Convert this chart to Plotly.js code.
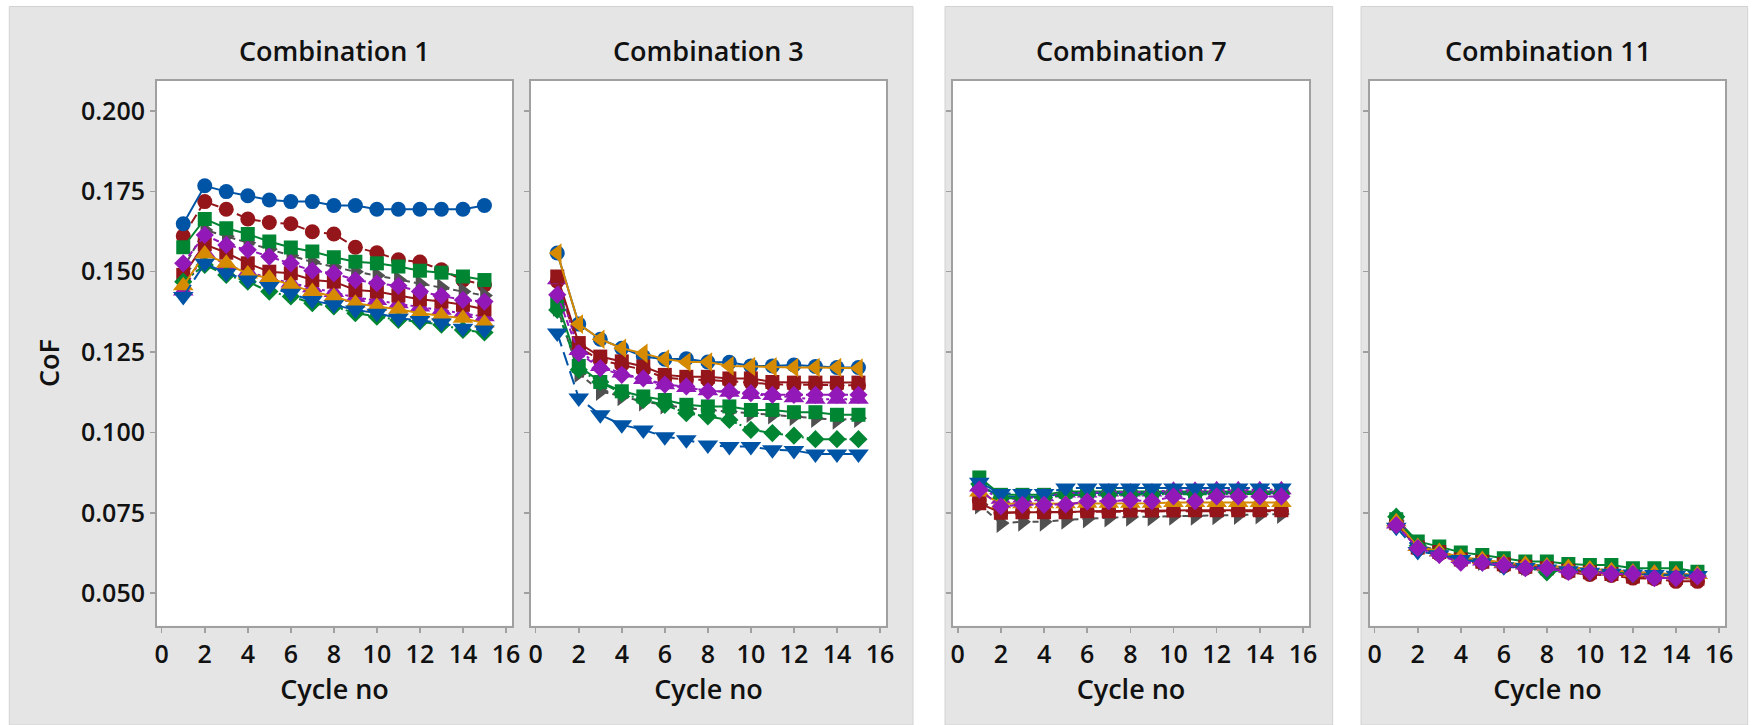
<!DOCTYPE html>
<html><head><meta charset="utf-8">
<script src="https://cdn.plot.ly/plotly-3.0.1.min.js"></script>
<style>html,body{margin:0;padding:0;background:#fff;}#chart{width:1752px;height:725px;}</style>
</head><body><div id="chart"></div>
<script>
// ---------------- DATA ----------------
const cycles = [1,2,3,4,5,6,7,8,9,10,11,12,13,14,15];
const panelTitles = ["Combination 1", "Combination 3", "Combination 7", "Combination 11"];
const xTickVals = [0,2,4,6,8,10,12,14,16];
const yTickVals = [0.050,0.075,0.100,0.125,0.150,0.175,0.200];
const xLabel = "Cycle no";
const yLabel = "CoF";

// Combination 1
const c1_redCircle    = [0.1611,0.1718,0.1694,0.1664,0.1653,0.1649,0.1624,0.1617,0.1576,0.1559,0.1537,0.1530,0.1506,0.1474,0.1459];
const c1_blueCircle   = [0.1649,0.1767,0.1749,0.1736,0.1723,0.1718,0.1718,0.1706,0.1706,0.1694,0.1694,0.1694,0.1694,0.1694,0.1706];
const c1_grayTriR     = [0.1510,0.1630,0.1610,0.1590,0.1570,0.1550,0.1530,0.1515,0.1500,0.1488,0.1475,0.1462,0.1450,0.1438,0.1426];
const c1_greenSquare  = [0.1576,0.1664,0.1635,0.1617,0.1594,0.1575,0.1563,0.1545,0.1531,0.1526,0.1516,0.1503,0.1497,0.1485,0.1474];
const c1_purpleTriU   = [0.1440,0.1560,0.1520,0.1500,0.1480,0.1465,0.1450,0.1435,0.1420,0.1410,0.1400,0.1390,0.1380,0.1370,0.1360];
const c1_redSquare    = [0.1490,0.1585,0.1559,0.1526,0.1500,0.1495,0.1474,0.1469,0.1443,0.1438,0.1426,0.1414,0.1407,0.1397,0.1383];
const c1_greenDiamond = [0.1469,0.1521,0.1490,0.1469,0.1438,0.1423,0.1402,0.1392,0.1371,0.1360,0.1350,0.1345,0.1335,0.1319,0.1311];
const c1_orangeTriU   = [0.1456,0.1555,0.1526,0.1493,0.1480,0.1459,0.1438,0.1423,0.1402,0.1392,0.1383,0.1371,0.1363,0.1355,0.1340];
const c1_orangeTriL   = null;
const c1_blueTriD     = [0.1423,0.1526,0.1495,0.1474,0.1454,0.1433,0.1410,0.1397,0.1381,0.1371,0.1355,0.1348,0.1340,0.1324,0.1319];
const c1_purpleDiamond= [0.1526,0.1614,0.1583,0.1568,0.1547,0.1526,0.1503,0.1495,0.1474,0.1464,0.1456,0.1438,0.1425,0.1412,0.1407];

// Combination 3
const c3_redCircle    = [0.1470,0.1265,0.1225,0.1210,0.1195,0.1170,0.1165,0.1163,0.1160,0.1155,0.1150,0.1148,0.1148,0.1147,0.1147];
const c3_blueCircle   = [0.1558,0.1337,0.1290,0.1262,0.1236,0.1228,0.1229,0.1219,0.1218,0.1207,0.1207,0.1210,0.1205,0.1202,0.1202];
const c3_grayTriR     = [0.1390,0.1184,0.1128,0.1112,0.1096,0.1086,0.1075,0.1070,0.1065,0.1060,0.1055,0.1050,0.1044,0.1039,0.1044];
const c3_greenSquare  = [0.1407,0.1207,0.1157,0.1128,0.1112,0.1101,0.1086,0.1081,0.1081,0.1070,0.1070,0.1063,0.1063,0.1055,0.1055];
const c3_purpleTriU   = [0.1475,0.1255,0.1205,0.1185,0.1165,0.1148,0.1140,0.1130,0.1125,0.1118,0.1115,0.1108,0.1103,0.1103,0.1103];
const c3_redSquare    = [0.1485,0.1278,0.1236,0.1221,0.1205,0.1179,0.1173,0.1173,0.1168,0.1168,0.1157,0.1155,0.1155,0.1155,0.1155];
const c3_greenDiamond = [0.1381,0.1195,0.1157,0.1122,0.1101,0.1086,0.1060,0.1050,0.1039,0.1008,0.0998,0.0990,0.0979,0.0979,0.0979];
const c3_orangeTriU   = null;
const c3_orangeTriL   = [0.1558,0.1337,0.1290,0.1262,0.1246,0.1228,0.1219,0.1219,0.1207,0.1205,0.1204,0.1202,0.1202,0.1202,0.1200];
const c3_blueTriD     = [0.1309,0.1107,0.1055,0.1024,0.1008,0.0987,0.0977,0.0961,0.0956,0.0956,0.0946,0.0944,0.0933,0.0933,0.0933];
const c3_purpleDiamond= [0.1428,0.1247,0.1200,0.1179,0.1168,0.1149,0.1143,0.1128,0.1128,0.1122,0.1117,0.1117,0.1117,0.1117,0.1117];

// Combination 7
const c7_redCircle    = [0.0790,0.0750,0.0752,0.0752,0.0752,0.0753,0.0753,0.0754,0.0754,0.0755,0.0755,0.0755,0.0755,0.0755,0.0755];
const c7_blueCircle   = [0.0835,0.0800,0.0800,0.0800,0.0812,0.0812,0.0812,0.0812,0.0812,0.0812,0.0812,0.0812,0.0812,0.0812,0.0812];
const c7_grayTriR     = [0.0775,0.0718,0.0722,0.0722,0.0728,0.0732,0.0735,0.0737,0.0738,0.0740,0.0740,0.0742,0.0743,0.0744,0.0746];
const c7_greenSquare  = [0.0860,0.0806,0.0806,0.0806,0.0816,0.0816,0.0816,0.0816,0.0816,0.0816,0.0816,0.0816,0.0816,0.0816,0.0816];
const c7_purpleTriU   = [0.0830,0.0792,0.0795,0.0800,0.0812,0.0812,0.0815,0.0815,0.0815,0.0820,0.0820,0.0822,0.0822,0.0822,0.0822];
const c7_redSquare    = [0.0780,0.0750,0.0752,0.0752,0.0752,0.0755,0.0755,0.0757,0.0757,0.0757,0.0758,0.0758,0.0758,0.0758,0.0758];
const c7_greenDiamond = [0.0840,0.0795,0.0795,0.0798,0.0805,0.0806,0.0806,0.0807,0.0807,0.0808,0.0808,0.0808,0.0809,0.0809,0.0809];
const c7_orangeTriU   = [0.0815,0.0778,0.0778,0.0778,0.0778,0.0780,0.0780,0.0780,0.0780,0.0782,0.0782,0.0782,0.0782,0.0782,0.0782];
const c7_orangeTriL   = null;
const c7_blueTriD     = [0.0845,0.0810,0.0810,0.0810,0.0827,0.0827,0.0827,0.0827,0.0827,0.0827,0.0827,0.0827,0.0827,0.0827,0.0827];
const c7_purpleDiamond= [0.0822,0.0770,0.0775,0.0775,0.0776,0.0785,0.0786,0.0789,0.0786,0.0801,0.0786,0.0801,0.0801,0.0801,0.0801];

// Combination 11
const c11_redCircle    = [0.0720,0.0638,0.0622,0.0600,0.0595,0.0585,0.0578,0.0572,0.0565,0.0558,0.0555,0.0547,0.0545,0.0537,0.0537];
const c11_blueCircle   = [0.0715,0.0640,0.0625,0.0605,0.0600,0.0590,0.0580,0.0578,0.0572,0.0568,0.0563,0.0560,0.0558,0.0556,0.0555];
const c11_grayTriR     = [0.0725,0.0650,0.0632,0.0610,0.0600,0.0592,0.0585,0.0580,0.0575,0.0570,0.0565,0.0560,0.0558,0.0555,0.0553];
const c11_greenSquare  = [0.0730,0.0661,0.0645,0.0627,0.0619,0.0609,0.0599,0.0599,0.0591,0.0588,0.0588,0.0578,0.0578,0.0578,0.0567];
const c11_purpleTriU   = [0.0715,0.0645,0.0628,0.0608,0.0600,0.0592,0.0588,0.0582,0.0578,0.0572,0.0568,0.0565,0.0562,0.0560,0.0558];
const c11_redSquare    = [0.0718,0.0642,0.0628,0.0605,0.0598,0.0590,0.0582,0.0578,0.0570,0.0565,0.0560,0.0552,0.0550,0.0548,0.0545];
const c11_greenDiamond = [0.0738,0.0648,0.0628,0.0605,0.0600,0.0590,0.0580,0.0565,0.0575,0.0570,0.0565,0.0560,0.0558,0.0555,0.0555];
const c11_orangeTriU   = [0.0722,0.0645,0.0630,0.0612,0.0605,0.0595,0.0590,0.0585,0.0580,0.0575,0.0570,0.0565,0.0562,0.0560,0.0558];
const c11_orangeTriL   = null;
const c11_blueTriD     = [0.0705,0.0630,0.0620,0.0605,0.0595,0.0582,0.0580,0.0575,0.0570,0.0565,0.0562,0.0560,0.0558,0.0556,0.0555];
const c11_purpleDiamond= [0.0712,0.0640,0.0619,0.0595,0.0595,0.0588,0.0578,0.0578,0.0566,0.0566,0.0560,0.0560,0.0547,0.0547,0.0552];

// ---------------- STYLES ----------------
const BLUE='#0054A6', RED='#94161A', GREEN='#008533', GRAY='#505050', PURPLE='#9219B8', ORANGE='#D58A00';
const seriesStyles = [
  {key:'redCircle',     color:RED,    symbol:'circle',         size:15, dash:'10px,5px'},
  {key:'blueCircle',    color:BLUE,   symbol:'circle',         size:15, dash:'solid'},
  {key:'grayTriR',      color:GRAY,   symbol:'triangle-right', size:17, dash:'6px,4px'},
  {key:'greenSquare',   color:GREEN,  symbol:'square',         size:14, dash:'solid'},
  {key:'purpleTriU',    color:PURPLE, symbol:'triangle-up',    size:18, dash:'3px,3px'},
  {key:'redSquare',     color:RED,    symbol:'square',         size:14, dash:'solid'},
  {key:'greenDiamond',  color:GREEN,  symbol:'diamond',        size:14, dash:'8px,3px,2px,3px'},
  {key:'orangeTriU',    color:ORANGE, symbol:'triangle-up',    size:18, dash:'solid'},
  {key:'orangeTriL',    color:ORANGE, symbol:'triangle-left',  size:17, dash:'solid'},
  {key:'blueTriD',      color:BLUE,   symbol:'triangle-down',  size:18, dash:'14px,6px'},
  {key:'purpleDiamond', color:PURPLE, symbol:'diamond',        size:14, dash:'6px,3px'}
];
const panels = [
  {redCircle:c1_redCircle, blueCircle:c1_blueCircle, grayTriR:c1_grayTriR, greenSquare:c1_greenSquare, purpleTriU:c1_purpleTriU, redSquare:c1_redSquare, greenDiamond:c1_greenDiamond, orangeTriU:c1_orangeTriU, orangeTriL:c1_orangeTriL, blueTriD:c1_blueTriD, purpleDiamond:c1_purpleDiamond},
  {redCircle:c3_redCircle, blueCircle:c3_blueCircle, grayTriR:c3_grayTriR, greenSquare:c3_greenSquare, purpleTriU:c3_purpleTriU, redSquare:c3_redSquare, greenDiamond:c3_greenDiamond, orangeTriU:c3_orangeTriU, orangeTriL:c3_orangeTriL, blueTriD:c3_blueTriD, purpleDiamond:c3_purpleDiamond},
  {redCircle:c7_redCircle, blueCircle:c7_blueCircle, grayTriR:c7_grayTriR, greenSquare:c7_greenSquare, purpleTriU:c7_purpleTriU, redSquare:c7_redSquare, greenDiamond:c7_greenDiamond, orangeTriU:c7_orangeTriU, orangeTriL:c7_orangeTriL, blueTriD:c7_blueTriD, purpleDiamond:c7_purpleDiamond},
  {redCircle:c11_redCircle, blueCircle:c11_blueCircle, grayTriR:c11_grayTriR, greenSquare:c11_greenSquare, purpleTriU:c11_purpleTriU, redSquare:c11_redSquare, greenDiamond:c11_greenDiamond, orangeTriU:c11_orangeTriU, orangeTriL:c11_orangeTriL, blueTriD:c11_blueTriD, purpleDiamond:c11_purpleDiamond}
];

// ---------------- LAYOUT ----------------
const W = 1752, H = 725;
const FONT = 'Open Sans, Noto Sans, sans-serif';
const px = x => x / W, py = y => 1 - y / H;
const xDomainsPx = [[157,512],[531,886],[953,1309],[1370,1725]];
const yDomainPx = [81, 625.7];
const boxesPx = [[9.3,913],[945,1332.7],[1361,1747.7]];

const traces = [];
panels.forEach((p, i) => {
  const ax = i === 0 ? '' : String(i + 1);
  seriesStyles.forEach(s => {
    const vals = p[s.key];
    if (!vals) return;
    traces.push({
      type:'scatter', mode:'lines+markers', x:cycles, y:vals,
      xaxis:'x'+ax, yaxis:'y'+ax, showlegend:false, hoverinfo:'x+y',
      line:{color:s.color, width:2, dash:s.dash},
      marker:{symbol:s.symbol, color:s.color, size:s.size, line:{width:0}}
    });
  });
});

const tickFont = {family:FONT, size:25, color:'#111', weight:600};
const titleFont = {family:FONT, size:27, color:'#111', weight:600};
const grayBoxes = boxesPx.map(b => ({type:'rect', xref:'paper', yref:'paper', layer:'below',
    x0:px(b[0]), x1:px(b[1]), y0:0, y1:py(6.5), fillcolor:'#e5e5e5', line:{color:'#d2d2d2', width:1}}));
const whitePlots = xDomainsPx.map(d => ({type:'rect', xref:'paper', yref:'paper', layer:'below',
    x0:px(d[0]), x1:px(d[1]), y0:py(yDomainPx[1]), y1:py(yDomainPx[0]), fillcolor:'#ffffff', line:{width:0}}));
const layout = {
  width:W, height:H, margin:{l:0,r:0,t:0,b:0},
  paper_bgcolor:'#ffffff', plot_bgcolor:'#ffffff',
  font:{family:FONT, color:'#111'},
  shapes: grayBoxes.concat(whitePlots),
  annotations: panelTitles.map((t, i) => ({
    text:t, xref:'paper', yref:'paper', x:px((xDomainsPx[i][0]+xDomainsPx[i][1])/2), y:py(51),
    xanchor:'center', yanchor:'middle', showarrow:false, font:titleFont
  })).concat([{text:yLabel, xref:'paper', yref:'paper', x:px(48), y:py(363), textangle:-90,
    xanchor:'center', yanchor:'middle', showarrow:false, font:titleFont}])
};
xDomainsPx.forEach((d, i) => {
  const ax = i === 0 ? '' : String(i + 1);
  layout['xaxis'+ax] = {
    domain:[px(d[0]), px(d[1])], anchor:'y'+ax, range:[-0.22, 16.28],
    tickvals:xTickVals, ticks:'outside', ticklen:5, tickwidth:1.5, tickcolor:'#a0a0a0',
    showline:true, mirror:true, linecolor:'#a0a0a0', linewidth:2,
    showgrid:false, zeroline:false, tickfont:tickFont,
    title:{text:xLabel, font:titleFont, standoff:8}
  };
  layout['yaxis'+ax] = {
    domain:[py(yDomainPx[1]), py(yDomainPx[0])], anchor:'x'+ax, range:[0.0399, 0.2093],
    tickvals:yTickVals, tickformat:'.3f', ticks:'outside', ticklen:5, tickwidth:1.5, tickcolor:'#a0a0a0',
    showline:true, mirror:true, linecolor:'#a0a0a0', linewidth:2,
    showgrid:false, zeroline:false, tickfont:tickFont, showticklabels: i === 0
  };
});

Plotly.newPlot('chart', traces, layout, {displayModeBar:false, staticPlot:true});
</script></body></html>
